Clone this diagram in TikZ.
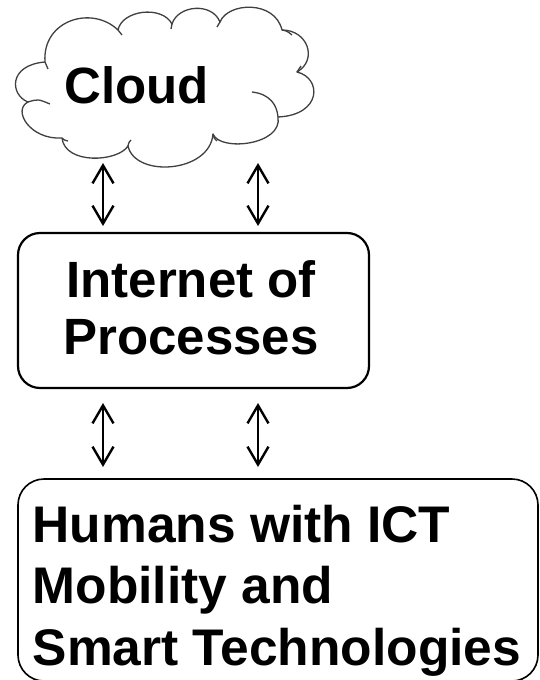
\documentclass[tikz,border=0pt]{standalone}
\usepackage{fontspec}
\setmainfont{Liberation Sans}
\usetikzlibrary{arrows.meta}
\begin{document}
\begin{tikzpicture}[x=1pt,y=-1pt,
  cloudline/.style={draw=black!75, line width=1.3pt, line join=round},
  boxstyle/.style={draw=black, line width=2.2pt, rounded corners=22pt},
  bigtext/.style={font=\bfseries\fontsize{51}{57}\selectfont, inner sep=0pt},
  humtext/.style={font=\bfseries\fontsize{51.5}{61}\selectfont, inner sep=0pt, anchor=base west},
  arr/.style={line width=2.4pt, {Straight Barb[length=18pt,width=21pt]}-{Straight Barb[length=18pt,width=21pt]}}]
\useasboundingbox (0,0) rectangle (539,680);
% cloud outline
\path[cloudline, fill=white] (28,102)
  .. controls (10,95) and (8,65) .. (45,62)
  .. controls (42,20) and (92,5) .. (118,30)
  .. controls (122,10) and (162,5) .. (172,24)
  .. controls (178,5) and (212,2) .. (220,22)
  .. controls (228,2) and (275,0) .. (282,30)
  .. controls (308,30) and (318,60) .. (297,72)
  .. controls (322,78) and (322,115) .. (278,117)
  .. controls (283,145) and (220,152) .. (213,134)
  .. controls (210,173) and (135,178) .. (128,146)
  .. controls (118,162) and (65,165) .. (62,138)
  .. controls (30,140) and (12,110) .. cycle;
% inner strokes of the cloud
\draw[cloudline] (28,102) .. controls (38,99) .. (50,104);
\draw[cloudline] (62,138) .. controls (64,140) .. (68,141);
\draw[cloudline] (128,146) .. controls (129,142) .. (131,140);
\draw[cloudline] (213,134) .. controls (214,138) .. (217,141);
\draw[cloudline] (252,92) .. controls (270,94) and (277,105) .. (278,117);
\draw[cloudline] (297,72) .. controls (299,69) .. (301,66);
\draw[cloudline] (282,30) .. controls (287,31) .. (292,35);
\draw[cloudline] (118,30) .. controls (120,32) .. (122,35);
\draw[cloudline] (172,24) .. controls (172,26) .. (171,29);
\draw[cloudline] (220,22) .. controls (219,24) .. (217,27);
\draw[cloudline] (45,62) .. controls (46,65) .. (48,69);
\node[bigtext, anchor=base] (cloud) at (136.5,103) {Cloud};
% Internet of Processes box
\node[boxstyle, minimum width=351pt, minimum height=155pt, inner sep=0pt] (ip) at (193.5,310.5) {};
\node[bigtext, anchor=base] (iptext) at (191,297) {Internet of};
\node[bigtext, anchor=base] (iptext2) at (191,354) {Processes};
% Humans box
\node[draw=black, line width=1.6pt, rounded corners=26pt, minimum width=520pt, minimum height=202pt, inner sep=0pt] (hu) at (278,580) {};
\node[humtext] (h1) at (32.5,542) {Humans with ICT};
\node[humtext] (h2) at (32.5,603) {Mobility and};
\node[humtext] (h3) at (32.5,665) {Smart Technologies};
% arrow end points
\coordinate (a1t) at (103,163); \coordinate (a1b) at (103,226);
\coordinate (a2t) at (258,163); \coordinate (a2b) at (258,226);
\coordinate (a3t) at (103,403); \coordinate (a3b) at (103,467);
\coordinate (a4t) at (258,403); \coordinate (a4b) at (258,467);
\draw[arr] (a1t) -- (a1b);
\draw[arr] (a2t) -- (a2b);
\draw[arr] (a3t) -- (a3b);
\draw[arr] (a4t) -- (a4b);
\end{tikzpicture}
\end{document}
